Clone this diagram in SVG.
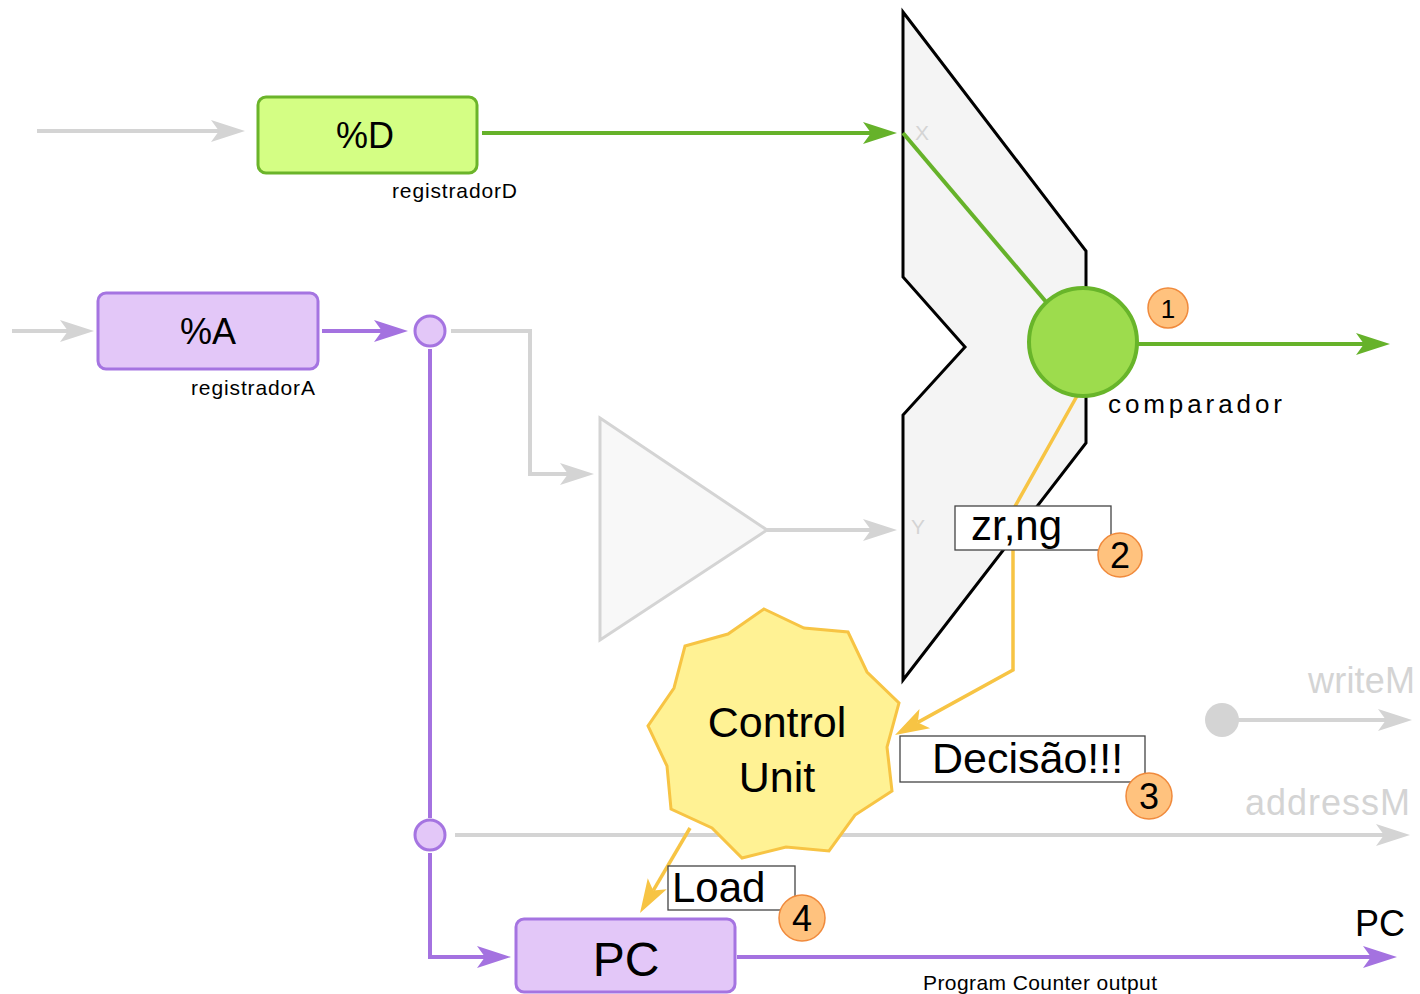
<svg xmlns="http://www.w3.org/2000/svg" width="1420" height="994" viewBox="0 0 1420 994">
<style>
text{font-family:"Liberation Sans",Arial,sans-serif;fill:#000}
.ln{fill:none;stroke-linejoin:miter}
.g{stroke:#d4d4d4;stroke-width:4}
.gr{stroke:#66b22a;stroke-width:4}
.pu{stroke:#a472e0;stroke-width:4}
.ye{stroke:#f7c444;stroke-width:3.5}
.lbl{fill:#fff;stroke:#444;stroke-width:1.3}
.badge{fill:#ffc27e;stroke:#f08a3c;stroke-width:1.5}
.gt{fill:#d4d4d4}
</style>
<defs>
<marker id="mg" markerUnits="userSpaceOnUse" markerWidth="40" markerHeight="30" viewBox="0 -15 40 30" refX="8" refY="0" orient="auto"><path d="M0,-11 L34,0 L0,11 L8,0 Z" fill="#d4d4d4"/></marker>
<marker id="mgr" markerUnits="userSpaceOnUse" markerWidth="40" markerHeight="30" viewBox="0 -15 40 30" refX="8" refY="0" orient="auto"><path d="M0,-11 L34,0 L0,11 L8,0 Z" fill="#66b22a"/></marker>
<marker id="mpu" markerUnits="userSpaceOnUse" markerWidth="40" markerHeight="30" viewBox="0 -15 40 30" refX="8" refY="0" orient="auto"><path d="M0,-11 L34,0 L0,11 L8,0 Z" fill="#a472e0"/></marker>
<marker id="mye" markerUnits="userSpaceOnUse" markerWidth="40" markerHeight="30" viewBox="0 -15 40 30" refX="8" refY="0" orient="auto"><path d="M0,-11 L34,0 L0,11 L8,0 Z" fill="#f7c444"/></marker>
</defs>

<g id="alu">
<polygon points="903,12 1086,251 1086,443 903,680 903,415 965,347 903,277" fill="#f4f4f4" stroke="#000" stroke-width="3"/>
<text x="915" y="140" font-size="21" class="gt">X</text>
<text x="911" y="534" font-size="21" class="gt">Y</text>
</g>

<g id="mux">
<polygon points="600,418 767,530 600,640" fill="#f8f8f8" stroke="#d4d4d4" stroke-width="3"/>
</g>

<g id="connectors">
<path class="ln g" d="M37,131 H219" marker-end="url(#mg)"/>
<path class="ln gr" d="M482,133 H871" marker-end="url(#mgr)"/>
<path class="ln g" d="M12,331 H68" marker-end="url(#mg)"/>
<path class="ln pu" d="M322,331 H382" marker-end="url(#mpu)"/>
<path class="ln g" d="M451,331 H530 V474 H568" marker-end="url(#mg)"/>
<path class="ln g" d="M767,530 H871" marker-end="url(#mg)"/>
<path class="ln gr" d="M903,133 L1047,303"/>
<path class="ln gr" d="M1137,344 H1364" marker-end="url(#mgr)"/>
<path class="ln ye" d="M1077,396 L1013,510 V670 L917.8,722.4" marker-end="url(#mye)"/>
<path class="ln g" d="M455,835 H1384" marker-end="url(#mg)"/>
<path class="ln g" d="M1222,720 H1386" marker-end="url(#mg)"/>
<path class="ln pu" d="M430,349 V818"/>
<path class="ln pu" d="M430,853 V957 H485" marker-end="url(#mpu)"/>
<path class="ln ye" d="M690,828 L653.2,890.6" marker-end="url(#mye)"/>
<path class="ln pu" d="M737,957 H1371" marker-end="url(#mpu)"/>
</g>

<g id="regD">
<rect x="258" y="97" width="219" height="76" rx="8" fill="#d4fe84" stroke="#6bb42a" stroke-width="3"/>
<text x="365" y="148" font-size="36" text-anchor="middle">%D</text>
<text x="392" y="198" font-size="21" textLength="125" lengthAdjust="spacing">registradorD</text>
</g>

<g id="regA">
<rect x="98" y="293" width="220" height="76" rx="8" fill="#e3c7f8" stroke="#a574e1" stroke-width="3"/>
<text x="208" y="344" font-size="36" text-anchor="middle">%A</text>
<text x="191" y="395" font-size="21" textLength="124" lengthAdjust="spacing">registradorA</text>
</g>

<g id="junctionA">
<circle cx="430" cy="331" r="15" fill="#e3c7f8" stroke="#a574e1" stroke-width="3"/>
</g>
<g id="junctionB">
<circle cx="430" cy="835" r="15" fill="#e3c7f8" stroke="#a574e1" stroke-width="3"/>
</g>

<g id="comparador">
<circle cx="1083" cy="342" r="54" fill="#9ddc4d" stroke="#68b52a" stroke-width="4"/>
<text x="1108" y="413" font-size="26" textLength="174" lengthAdjust="spacing">comparador</text>
</g>

<g id="badge1">
<circle cx="1168" cy="308" r="20" class="badge"/>
<text x="1168" y="318" font-size="26" text-anchor="middle">1</text>
</g>

<g id="zrng">
<rect x="955" y="506" width="156" height="44" class="lbl"/>
<text x="971" y="540" font-size="42">zr,ng</text>
</g>
<g id="badge2">
<circle cx="1120" cy="555" r="22" class="badge"/>
<text x="1120" y="568" font-size="36" text-anchor="middle">2</text>
</g>

<g id="control">
<polygon points="764,609 804,628 848,632 867,672 899,703 887,747 892,791 855,815 829,851 786,847 742,858 712,828 671,809 667,766 648,726 674,688 685,646 728,634" fill="#fff294" stroke="#f7c444" stroke-width="3"/>
<text x="777" y="737" font-size="43" text-anchor="middle">Control</text>
<text x="777" y="792" font-size="43" text-anchor="middle">Unit</text>
</g>

<g id="decisao">
<rect x="900" y="736" width="245" height="46" class="lbl"/>
<text x="932" y="773" font-size="43">Decisão!!!</text>
</g>
<g id="badge3">
<circle cx="1149" cy="796" r="23" class="badge"/>
<text x="1149" y="809" font-size="36" text-anchor="middle">3</text>
</g>

<g id="writeM">
<circle cx="1222" cy="720" r="17" fill="#d4d4d4"/>
<text x="1308" y="693" font-size="36" class="gt" textLength="107" lengthAdjust="spacing">writeM</text>
</g>
<g id="addressM">
<text x="1245" y="815" font-size="36" class="gt" textLength="165" lengthAdjust="spacing">addressM</text>
</g>

<g id="load">
<rect x="668" y="866" width="127" height="44" class="lbl"/>
<text x="672" y="902" font-size="42">Load</text>
</g>
<g id="badge4">
<circle cx="802" cy="918" r="23" class="badge"/>
<text x="802" y="931" font-size="36" text-anchor="middle">4</text>
</g>

<g id="pc">
<rect x="516" y="919" width="219" height="73" rx="8" fill="#e3c7f8" stroke="#a574e1" stroke-width="3"/>
<text x="626" y="976" font-size="48" text-anchor="middle">PC</text>
</g>

<g id="pcout">
<text x="1355" y="936" font-size="36">PC</text>
<text x="923" y="990" font-size="21" textLength="234" lengthAdjust="spacing">Program Counter output</text>
</g>
</svg>
